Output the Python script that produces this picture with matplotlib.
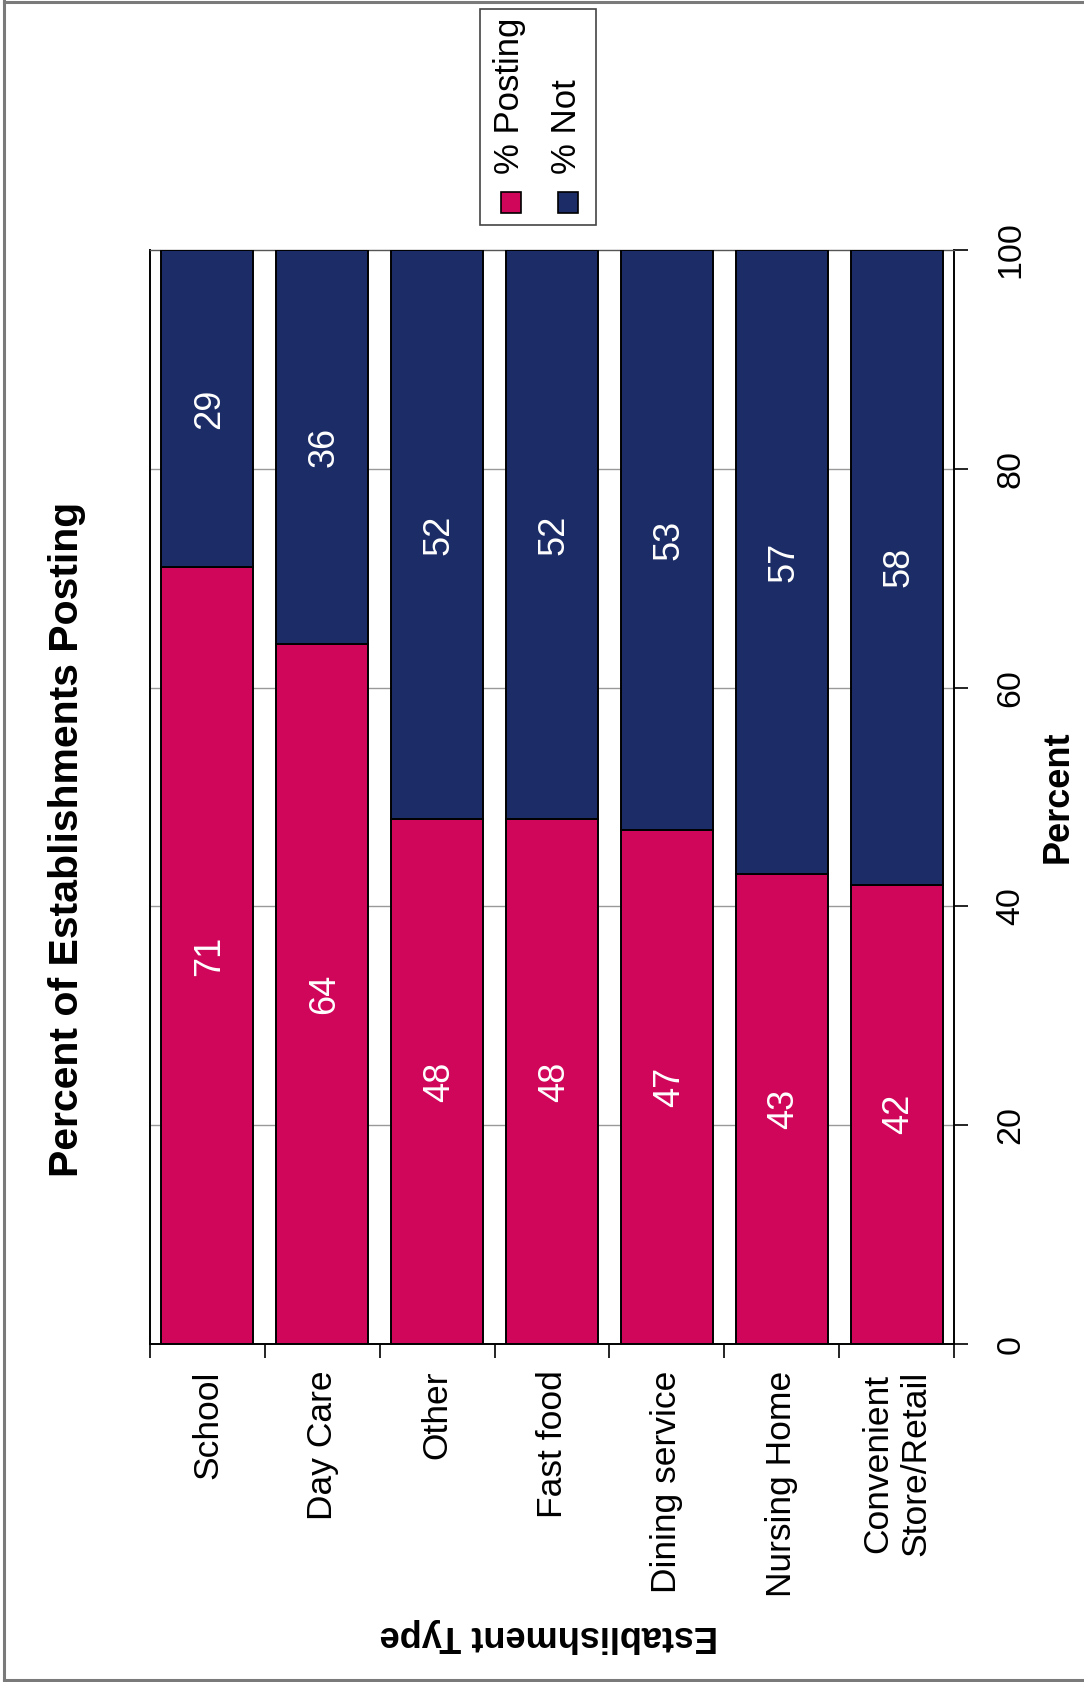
import matplotlib
matplotlib.use("Agg")
import matplotlib.pyplot as plt
from matplotlib.patches import Rectangle
from matplotlib.lines import Line2D
import numpy as np

plt.rcParams["font.family"] = ["Liberation Sans", "DejaVu Sans"]

# establishment types, top-to-bottom order of the bars
categories = ["School", "Day Care", "Other", "Fast food", "Dining service",
              "Nursing Home", "Convenient\nStore/Retail"]
pct_posting = [71, 64, 48, 48, 47, 43, 42]
pct_not = [29, 36, 52, 52, 53, 57, 58]
percent_ticks = [0, 20, 40, 60, 80, 100]

PINK = "#D0065A"
NAVY = "#1B2C66"

W, H = 1084, 1682
fig = plt.figure(figsize=(W / 100, H / 100), dpi=100)


def fx(px):
    return px / W


def fy(py):
    return 1 - py / H


# plot area in pixel terms: x 150..954, y 250..1344
ax = fig.add_axes([fx(150), fy(1344), fx(954) - fx(150), fy(250) - fy(1344)])

x = np.arange(len(categories))
ax.bar(x, pct_posting, width=0.8, color=PINK, edgecolor="black", linewidth=1.4, zorder=3)
ax.bar(x, pct_not, width=0.8, bottom=pct_posting, color=NAVY, edgecolor="black",
       linewidth=1.4, zorder=3)

for xi, p, n in zip(x, pct_posting, pct_not):
    ax.text(xi + 0.02, p / 2, str(p), rotation=90, ha="center", va="center",
            color="white", fontsize=26, zorder=4)
    ax.text(xi + 0.02, p + n / 2, str(n), rotation=90, ha="center", va="center",
            color="white", fontsize=26, zorder=4)

ax.set_xlim(-0.5, len(categories) - 0.5)
ax.set_ylim(0, 100)

# horizontal grid behind the bars
for v in percent_ticks[1:-1]:
    ax.axhline(v, color="#999999", linewidth=1.0, zorder=1)

# category axis: labels at bar centres, tick marks on the slot boundaries
ax.set_xticks(x)
ax.set_xticklabels(categories, rotation=90, ha="center", va="top",
                   multialignment="center", fontsize=25.5)
ax.set_xticks(np.arange(len(categories) + 1) - 0.5, minor=True)
ax.tick_params(axis="x", which="major", length=0, pad=19)
ax.tick_params(axis="x", which="minor", length=10, width=1.2, direction="out")

# percent axis on the right
ax.yaxis.tick_right()
ax.set_yticks(percent_ticks)
ax.set_yticklabels([str(t) for t in percent_ticks], fontsize=24.5)
for lab in ax.get_yticklabels():
    lab.set_rotation(90)
    lab.set_va("center")
ax.tick_params(axis="y", which="major", length=10, width=1.2, direction="out", pad=20)

for side in ["left", "right", "bottom"]:
    ax.spines[side].set_color("black")
    ax.spines[side].set_linewidth(1.4)
ax.spines["top"].set_color("#555555")
ax.spines["top"].set_linewidth(1.0)

ax.set_xlabel("Establishment Type", fontsize=26, fontweight="bold", rotation=180)
ax.xaxis.set_label_coords((549 - 150) / 804, (1344 - 1635) / 1094)
ax.xaxis.label.set_ha("center")
ax.xaxis.label.set_va("center")

ax.set_ylabel("Percent", fontsize=26, fontweight="bold", rotation=90)
ax.yaxis.set_label_position("right")
ax.yaxis.set_label_coords((1058 - 150) / 804, 0.5)
ax.yaxis.label.set_ha("center")
ax.yaxis.label.set_va("center")
ax.yaxis.label.set_rotation_mode("default")

fig.text(fx(67), fy(839), "Percent of Establishments Posting", rotation=90,
         ha="center", va="center", fontsize=29.5, fontweight="bold")

# legend box, drawn by hand so the entries can be turned on their side
fig.add_artist(Rectangle((fx(480), fy(225)), fx(596) - fx(480), fy(9) - fy(225),
                         transform=fig.transFigure, facecolor="white",
                         edgecolor="#444444", linewidth=1.2))
legend_items = [("% Posting", PINK, 511), ("% Not", NAVY, 568)]
for label, color, cx in legend_items:
    fig.add_artist(Rectangle((fx(cx - 10), fy(213)), fx(20), fy(192) - fy(213),
                             transform=fig.transFigure, facecolor=color,
                             edgecolor="black", linewidth=1.2))
    fig.text(fx(cx - 1), fy(174), label, rotation=90, ha="center", va="bottom",
             fontsize=25)

# outer frame on the left, top and bottom edges
frame_kw = dict(transform=fig.transFigure, color="#7a7a7a", linewidth=2.2)
fig.add_artist(Line2D([fx(4), fx(4)], [fy(1), fy(1680)], **frame_kw))
fig.add_artist(Line2D([fx(4), 1.0], [fy(1.5), fy(1.5)], **frame_kw))
fig.add_artist(Line2D([fx(4), 1.0], [fy(1680), fy(1680)], **frame_kw))

fig.savefig("out.png", dpi=100, facecolor="white")
